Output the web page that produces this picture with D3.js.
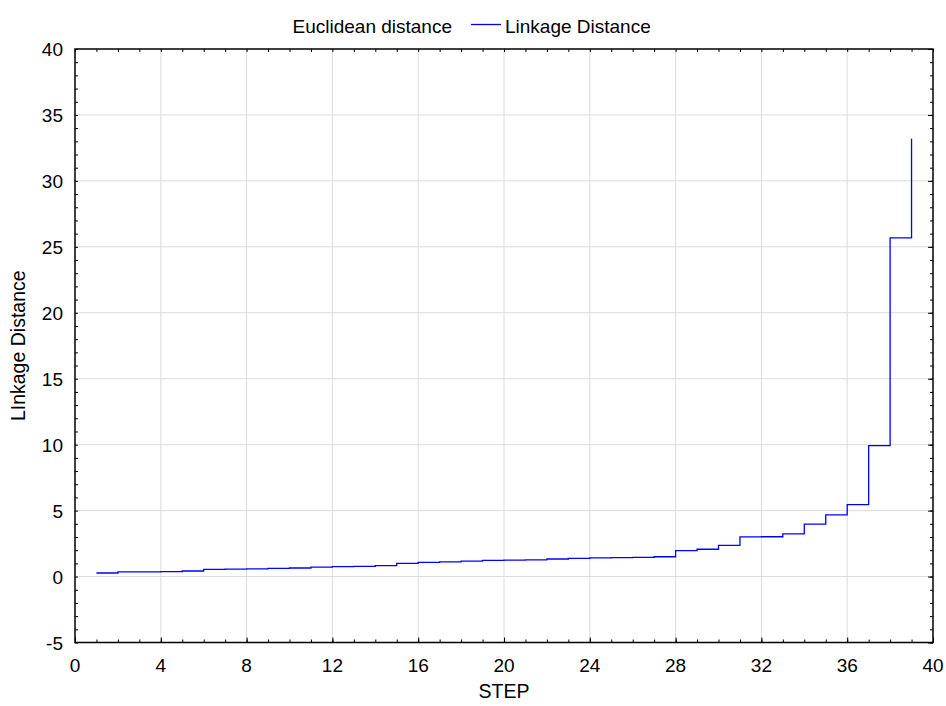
<!DOCTYPE html>
<html><head><meta charset="utf-8">
<script src="https://cdn.jsdelivr.net/npm/d3@7/dist/d3.min.js"></script>
<style>body{margin:0;background:#fff}svg{display:block}text{font-family:"Liberation Sans",Arial,sans-serif;fill:#000}</style>
</head><body>
<svg id="c" width="946" height="706"></svg>
<script>
const steps = d3.range(1, 40);
const linkage = [0.27,0.35,0.36,0.38,0.42,0.55,0.56,0.58,0.62,0.65,0.72,0.75,0.77,0.83,1.00,1.07,1.12,1.17,1.22,1.24,1.27,1.33,1.38,1.42,1.44,1.46,1.50,1.96,2.07,2.36,3.01,3.02,3.24,3.97,4.67,5.45,9.92,25.68,33.2];
const xTicks = [0,4,8,12,16,20,24,28,32,36,40];
const yTicks = [-5,0,5,10,15,20,25,30,35,40];
const legendTitle = "Euclidean distance";
const seriesName = "Linkage Distance";
const xTitle = "STEP";
const yTitle = "LInkage Distance";

const svg = d3.select("#c");
const L = 75, R = 933, T = 49, B = 642.5;
const x = d3.scaleLinear().domain([0,40]).range([L,R]);
const y = d3.scaleLinear().domain([-5,40]).range([B,T]);

// grid
const g = svg.append("g");
g.selectAll(".gx").data(xTicks.slice(1,-1)).join("line")
  .attr("x1", d=>x(d)).attr("x2", d=>x(d)).attr("y1", T).attr("y2", B)
  .attr("stroke", "#dcdcdc").attr("stroke-width", 1);
g.selectAll(".gy").data(yTicks.slice(1,-1)).join("line")
  .attr("y1", d=>y(d)).attr("y2", d=>y(d)).attr("x1", L).attr("x2", R)
  .attr("stroke", "#dcdcdc").attr("stroke-width", 1);

// line
const line = d3.line().x((d,i)=>x(steps[i])).y(d=>y(d)).curve(d3.curveStepAfter);
svg.append("path").datum(linkage).attr("d", line)
  .attr("fill","none").attr("stroke","#0000ff").attr("stroke-width",1.3);

// axes (ticks inward)
const minorX = d3.range(0,41,1), minorY = d3.range(-5,41,1);
svg.append("g").attr("transform",`translate(0,${B})`).call(d3.axisBottom(x).tickValues(minorX).tickSize(-3).tickFormat(""));
svg.append("g").attr("transform",`translate(0,${T})`).call(d3.axisTop(x).tickValues(minorX).tickSize(-3).tickFormat(""));
svg.append("g").attr("transform",`translate(${L},0)`).call(d3.axisLeft(y).tickValues(minorY).tickSize(-3).tickFormat(""));
svg.append("g").attr("transform",`translate(${R},0)`).call(d3.axisRight(y).tickValues(minorY).tickSize(-3).tickFormat(""));
svg.append("g").attr("transform",`translate(0,${B})`).call(d3.axisBottom(x).tickValues(xTicks).tickSize(-5).tickFormat(""));
svg.append("g").attr("transform",`translate(${R},0)`).call(d3.axisRight(y).tickValues(yTicks).tickSize(-5).tickFormat(""));
svg.selectAll(".domain").remove();
svg.selectAll(".tick line").attr("stroke","#000").attr("stroke-width",1);

// frame
svg.append("rect").attr("x",L).attr("y",T).attr("width",R-L).attr("height",B-T)
  .attr("fill","none").attr("stroke","#000").attr("stroke-width",1.5);

// tick labels
svg.append("g").selectAll("text").data(xTicks).join("text")
  .attr("x", d=>x(d)).attr("y", B+29).attr("text-anchor","middle")
  .style("font-size","19px").text(d=>d);
svg.append("g").selectAll("text").data(yTicks).join("text")
  .attr("x", L-12).attr("y", d=>y(d)+7).attr("text-anchor","end")
  .style("font-size","19px").text(d=>d);

// titles
svg.append("text").attr("x",(L+R)/2).attr("y",698).attr("text-anchor","middle")
  .style("font-size","19.5px").text(xTitle);
svg.append("text").attr("transform",`translate(25,${(T+B)/2}) rotate(-90)`)
  .attr("text-anchor","middle").style("font-size","19.5px").text(yTitle);

// legend
const lg = svg.append("g");
lg.append("text").attr("x",452).attr("y",33).attr("text-anchor","end").style("font-size","19px").text(legendTitle);
lg.append("line").attr("x1",471).attr("x2",501).attr("y1",24.5).attr("y2",24.5).attr("stroke","#0000ff").attr("stroke-width",1.3);
lg.append("text").attr("x",505).attr("y",33).style("font-size","19px").text(seriesName);
</script>
</body></html>
